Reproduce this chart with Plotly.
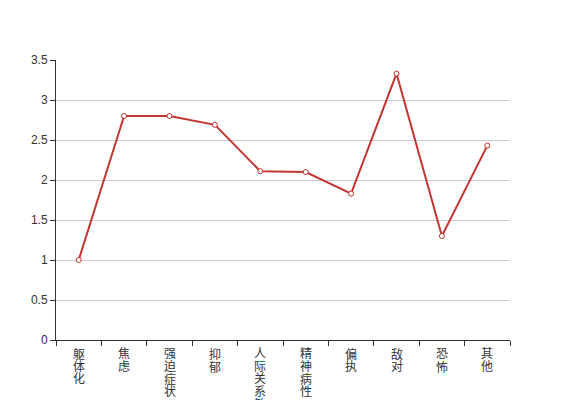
import plotly.graph_objects as go

categories = ["躯体化", "焦虑", "强迫症状", "抑郁", "人际关系敏感", "精神病性", "偏执", "敌对", "恐怖", "其他"]
values = [1.0, 2.80, 2.80, 2.69, 2.11, 2.10, 1.83, 3.33, 1.30, 2.43]
y_ticks = [0, 0.5, 1, 1.5, 2, 2.5, 3, 3.5]
y_tick_labels = ["0", "0.5", "1", "1.5", "2", "2.5", "3", "3.5"]

FONT = "Liberation Sans, Arial, Noto Sans CJK SC, sans-serif"

fig = go.Figure()
fig.add_trace(go.Scatter(
    x=categories, y=values, mode="lines+markers",
    line=dict(color="#c23531", width=2),
    marker=dict(symbol="circle", size=5, color="white", line=dict(color="#c23531", width=1)),
    hoverinfo="x+y", showlegend=False,
))

# vertical category labels, one character per line
annotations = []
for c in categories:
    for i, ch in enumerate(c):
        annotations.append(dict(
            x=c, y=0, xref="x", yref="paper", text=ch, showarrow=False,
            xanchor="center", yanchor="top", yshift=-5 - 12.5 * i,
            font=dict(family=FONT, size=12, color="#333333"),
        ))

fig.update_layout(
    width=559, height=392,
    margin=dict(l=48, r=57, t=52, b=60, pad=0),
    paper_bgcolor="white", plot_bgcolor="white",
    font=dict(family=FONT, size=12, color="#333333"),
    annotations=annotations,
    xaxis=dict(
        type="category", categoryorder="array", categoryarray=categories,
        range=[-0.5, len(categories) - 0.5],
        showticklabels=False, showgrid=False, zeroline=False,
        showline=True, linecolor="#333333", linewidth=1,
        ticks="outside", ticklen=5, tickcolor="#333333", tickson="boundaries",
    ),
    yaxis=dict(
        range=[0, 3.5], tickvals=y_ticks, ticktext=y_tick_labels,
        showgrid=True, gridcolor="#cccccc", gridwidth=1, zeroline=False,
        showline=True, linecolor="#333333", linewidth=1,
        ticks="outside", ticklen=5, tickcolor="#333333",
        tickfont=dict(family=FONT, size=12, color="#333333"),
    ),
)

fig.write_html("out.html")
